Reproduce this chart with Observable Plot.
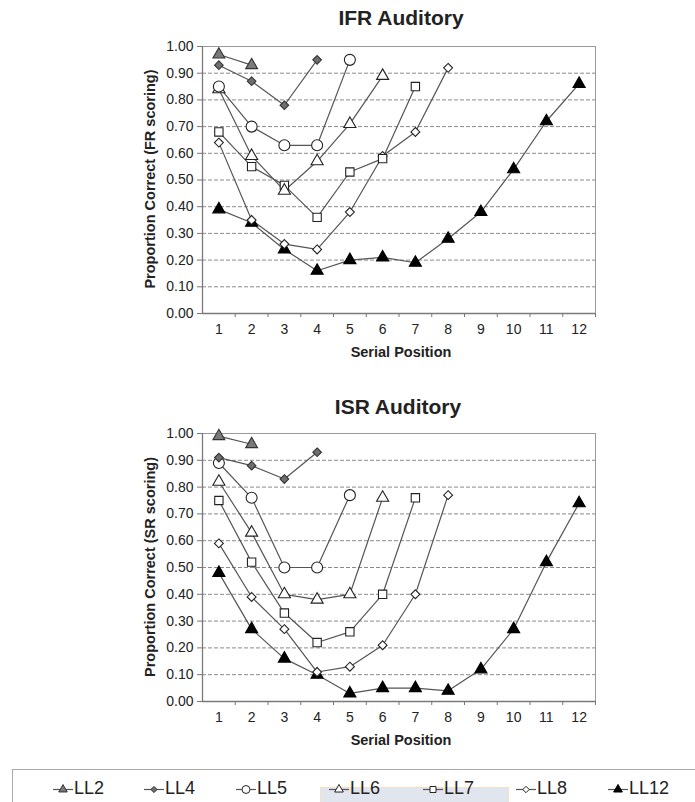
<!DOCTYPE html>
<html>
<head>
<meta charset="utf-8">
<script src="https://cdn.jsdelivr.net/npm/d3@7"></script>
<script src="https://cdn.jsdelivr.net/npm/@observablehq/plot@0.6"></script>
<style>
  html, body { margin: 0; padding: 0; background: #fff; }
  #page { position: relative; width: 695px; height: 802px; overflow: hidden; font-family: "Liberation Sans", Arial, sans-serif; color: #222; }
  .abs { position: absolute; }
  .title { font-weight: bold; font-size: 21px; white-space: nowrap; transform: translateX(-50%); }
  .xlabel { font-weight: bold; font-size: 14.5px; white-space: nowrap; transform: translateX(-50%); }
  .ylabel { font-weight: bold; font-size: 14.5px; white-space: nowrap; transform: translate(-50%, -50%) rotate(-90deg); }
  .legend { left: 12px; top: 769px; width: 700px; height: 40px; border-top: 1px solid #aaa; border-left: 1px solid #aaa; background: #fff; }
  .legend-item { position: absolute; top: 8px; display: flex; align-items: center; font-size: 18px; color: #222; }
  .legend-item svg { display: block; margin-right: 1px; }
</style>
</head>
<body>
<div id="page"></div>
<script>
// Serial positions and tick values
const serialPositions = [1, 2, 3, 4, 5, 6, 7, 8, 9, 10, 11, 12];
const yTicks = [0, 0.1, 0.2, 0.3, 0.4, 0.5, 0.6, 0.7, 0.8, 0.9, 1.0];
const seriesNames = ["LL2", "LL4", "LL5", "LL6", "LL7", "LL8", "LL12"];

// Immediate free recall, free-recall scoring
const ifrLL2  = [0.97, 0.93];
const ifrLL4  = [0.93, 0.87, 0.78, 0.95];
const ifrLL5  = [0.85, 0.70, 0.63, 0.63, 0.95];
const ifrLL6  = [0.84, 0.59, 0.46, 0.57, 0.71, 0.89];
const ifrLL7  = [0.68, 0.55, 0.48, 0.36, 0.53, 0.58, 0.85];
const ifrLL8  = [0.64, 0.35, 0.26, 0.24, 0.38, 0.59, 0.68, 0.92];
const ifrLL12 = [0.39, 0.34, 0.24, 0.16, 0.20, 0.21, 0.19, 0.28, 0.38, 0.54, 0.72, 0.86];

// Immediate serial recall, serial-recall scoring
const isrLL2  = [0.99, 0.96];
const isrLL4  = [0.91, 0.88, 0.83, 0.93];
const isrLL5  = [0.89, 0.76, 0.50, 0.50, 0.77];
const isrLL6  = [0.82, 0.63, 0.40, 0.38, 0.40, 0.76];
const isrLL7  = [0.75, 0.52, 0.33, 0.22, 0.26, 0.40, 0.76];
const isrLL8  = [0.59, 0.39, 0.27, 0.11, 0.13, 0.21, 0.40, 0.77];
const isrLL12 = [0.48, 0.27, 0.16, 0.10, 0.03, 0.05, 0.05, 0.04, 0.12, 0.27, 0.52, 0.74];

const ifrSeries = [ifrLL2, ifrLL4, ifrLL5, ifrLL6, ifrLL7, ifrLL8, ifrLL12];
const isrSeries = [isrLL2, isrLL4, isrLL5, isrLL6, isrLL7, isrLL8, isrLL12];

// Marker appearance per list length
const markerStyle = {
  LL2:  {symbol: d3.symbolTriangle, r: 4.4, fill: "#7a7a7a", stroke: "#333"},
  LL4:  {symbol: d3.symbolDiamond2, r: 3.9, fill: "#6e6e6e", stroke: "#333"},
  LL5:  {symbol: d3.symbolCircle,   r: 5.5, fill: "#fff",    stroke: "#222"},
  LL6:  {symbol: d3.symbolTriangle, r: 4.5, fill: "#fff",    stroke: "#222"},
  LL7:  {symbol: d3.symbolSquare,   r: 4.7, fill: "#fff",    stroke: "#222"},
  LL8:  {symbol: d3.symbolDiamond2, r: 4.0, fill: "#fff",    stroke: "#222"},
  LL12: {symbol: d3.symbolTriangle, r: 4.5, fill: "#000",    stroke: "#000"}
};

function toRows(seriesList) {
  const rows = [];
  seriesList.forEach((values, i) => {
    values.forEach((v, j) => rows.push({series: seriesNames[i], position: serialPositions[j], value: v}));
  });
  return rows;
}

const page = document.getElementById("page");

function addText(cls, text, left, top) {
  const el = document.createElement("div");
  el.className = "abs " + cls;
  el.textContent = text;
  el.style.left = left + "px";
  el.style.top = top + "px";
  page.appendChild(el);
  return el;
}

function makeChart(seriesList, top, marginTop, marginBottom) {
  const rows = toRows(seriesList);
  const boundaries = serialPositions.map(p => p + 0.5);
  const grid = yTicks.filter(t => t > 0 && t < 1);
  const marks = [
    Plot.frame({stroke: "#9a9a9a"}),
    Plot.ruleY(grid, {stroke: "#8a8a8a", strokeDasharray: "4,2", strokeWidth: 1}),
    Plot.axisY({ticks: yTicks, tickFormat: d3.format(".2f"), tickSize: 5, tickPadding: 4, label: null, stroke: "#777", fontSize: 14}),
    Plot.axisX({ticks: serialPositions, tickSize: 0, tickPadding: 11, label: null, fontSize: 14}),
    Plot.axisX({ticks: boundaries, tickSize: 4, tickFormat: () => "", label: null, stroke: "#777"}),
    Plot.ruleX([0.5], {stroke: "#7a7a7a", strokeWidth: 1.3}),
    Plot.ruleY([0], {stroke: "#7a7a7a", strokeWidth: 1.3}),
    Plot.line(rows, {x: "position", y: "value", z: "series", stroke: "#555", strokeWidth: 1.2})
  ];
  // Draw lower series first so upper markers sit on top
  [...seriesNames].reverse().forEach(name => {
    const s = markerStyle[name];
    marks.push(Plot.dot(rows.filter(d => d.series === name), {
      x: "position", y: "value", symbol: s.symbol, r: s.r,
      fill: s.fill, stroke: s.stroke, strokeWidth: 1.1
    }));
  });
  const chart = Plot.plot({
    width: 695,
    height: 365,
    marginLeft: 202,
    marginRight: 100,
    marginTop,
    marginBottom,
    x: {domain: [0.5, 12.5]},
    y: {domain: [0, 1]},
    style: {fontFamily: "Liberation Sans, Arial, sans-serif", fontSize: "14px", color: "#222", background: "transparent", overflow: "visible"},
    marks
  });
  chart.style.position = "absolute";
  chart.style.left = "0px";
  chart.style.top = top + "px";
  page.appendChild(chart);
}

// Upper panel: plot area spans y 46..313
makeChart(ifrSeries, 0, 46, 52);
addText("title", "IFR Auditory", 401, 6);
addText("ylabel", "Proportion Correct (FR scoring)", 150, 179);
addText("xlabel", "Serial Position", 401, 344);

// Lower panel: plot area spans y 433..701
makeChart(isrSeries, 390, 43, 54);
addText("title", "ISR Auditory", 398, 395);
addText("ylabel", "Proportion Correct (SR scoring)", 150, 567);
addText("xlabel", "Serial Position", 401, 732);

// Legend box
const legend = document.createElement("div");
legend.className = "abs legend";
page.appendChild(legend);

const band = document.createElement("div");
band.className = "abs";
Object.assign(band.style, {left: "307px", top: "17px", width: "187px", height: "30px", background: "#e1e6ee", border: "1px solid #f8dfbf"});
legend.appendChild(band);

const legendLeft = [40, 131, 223, 316, 410, 503, 595];
seriesNames.forEach((name, i) => {
  const s = markerStyle[name];
  const item = document.createElement("div");
  item.className = "legend-item";
  item.style.left = legendLeft[i] + "px";
  const svg = d3.create("svg").attr("width", 20).attr("height", 14);
  svg.append("line").attr("x1", 0).attr("x2", 20).attr("y1", 7.5).attr("y2", 7.5).attr("stroke", "#555").attr("stroke-width", 1.2);
  const size = Math.PI * (s.r * 0.72) ** 2;
  svg.append("path").attr("transform", "translate(10,7.5)")
    .attr("d", d3.symbol(s.symbol, size)())
    .attr("fill", s.fill).attr("stroke", s.stroke).attr("stroke-width", 1);
  item.appendChild(svg.node());
  const label = document.createElement("span");
  label.textContent = name;
  item.appendChild(label);
  legend.appendChild(item);
});
</script>
</body>
</html>
